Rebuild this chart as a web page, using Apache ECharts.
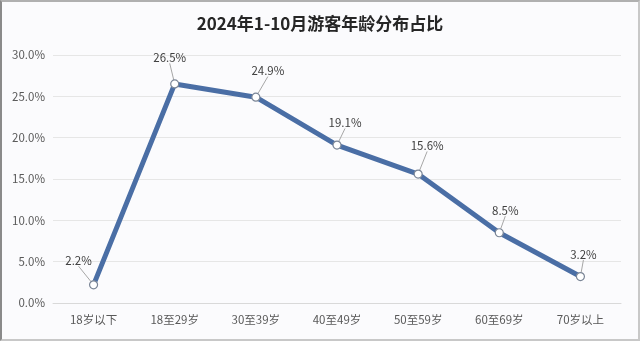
<!DOCTYPE html>
<html><head><meta charset="utf-8">
<script src="https://cdn.jsdelivr.net/npm/echarts@6/dist/echarts.min.js"></script>
<style>
html,body{margin:0;padding:0;background:#fff;}
#c{width:640px;height:341px;box-sizing:border-box;border-left:2px solid #8a8a8a;border-top:2px solid #b0b0b0;border-right:2px solid #c8c8c8;border-bottom:2px solid #c8c8c8;background:#fbfbfd;}
</style></head>
<body><div id="c"></div>
<script>
const categories = ['18岁以下','18至29岁','30至39岁','40至49岁','50至59岁','60至69岁','70岁以上'];
const values = [2.2, 26.5, 24.9, 19.1, 15.6, 8.5, 3.2];
const yTicks = [0, 5, 10, 15, 20, 25, 30];
const titleText = '2024年1-10月游客年龄分布占比';

const labelShift = [[-15,-8],[-5,-10],[12,-10],[8,-6],[9,-12],[6,-6],[3,-6]];

const chart = echarts.init(document.getElementById('c'), null, {renderer:'canvas'});
chart.setOption({
  backgroundColor: 'transparent',
  title: {text: titleText, left: 'center', top: 8,
    textStyle: {fontFamily: '"Noto Sans CJK SC"', fontSize: 17, fontWeight: 'bold', color: '#262626'}},
  grid: {left: 51, right: 17, top: 53, bottom: 36},
  xAxis: {type: 'category', data: categories, boundaryGap: true,
    axisLine: {lineStyle: {color: '#d9d9d9', width: 1}}, axisTick: {show: false},
    axisLabel: {color: '#595959', fontSize: 11.5, margin: 11, fontFamily: '"Noto Sans CJK SC"'}},
  yAxis: {type: 'value', min: yTicks[0], max: yTicks[yTicks.length-1], interval: 5,
    axisLine: {show: false}, axisTick: {show: false},
    splitLine: {lineStyle: {color: '#e6e6e6'}},
    axisLabel: {color: '#595959', fontSize: 11.5, margin: 8, fontFamily: '"Noto Sans CJK SC"',
      formatter: v => v.toFixed(1) + '%'}},
  series: [{type: 'line', data: values, symbol: 'circle', symbolSize: 8,
    lineStyle: {color: '#4a6ea5', width: 5},
    itemStyle: {color: '#ffffff', borderColor: '#7a8596', borderWidth: 1.2},
    label: {show: true, position: 'top', distance: 6, color: '#404040', fontSize: 11.5,
      fontFamily: '"Noto Sans CJK SC"', formatter: p => p.value.toFixed(1) + '%'},
    labelLine: {show: true, lineStyle: {color: '#a6a6a6', width: 1}},
    labelLayout: p => ({dx: labelShift[p.dataIndex][0], dy: labelShift[p.dataIndex][1]}),
    z: 3}]
});
</script></body></html>
